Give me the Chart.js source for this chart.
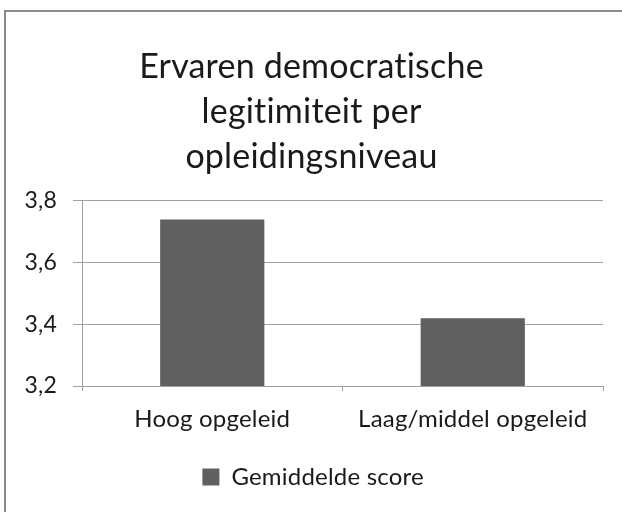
<!DOCTYPE html>
<html>
<head>
<meta charset="utf-8">
<script src="https://cdn.jsdelivr.net/npm/chart.js@4"></script>
<style>
  html, body { margin: 0; padding: 0; background: #fff; }
  #wrap { position: relative; width: 622px; height: 512px; }
  #frame { position: absolute; left: 4px; top: 10px; right: -2px; bottom: -2px; border-top: 2px solid #8c8c8c; border-left: 2px solid #8c8c8c; }
  canvas { position: absolute; left: 0; top: 0; }
</style>
</head>
<body>
<div id="wrap">
  <div id="frame"></div>
  <canvas id="chart" width="622" height="512"></canvas>
</div>
<script>
var titleLines = ["Ervaren democratische", "legitimiteit per", "opleidingsniveau"];
var categories = ["Hoog opgeleid", "Laag/middel opgeleid"];
var seriesName = "Gemiddelde score";
var scores = [3.74, 3.42];
var yTicks = [3.2, 3.4, 3.6, 3.8];

var fontName = "Lato";
var textColor = "#1a1a1a";
var gridColor = "#a0a0a0";

// geen "ti"-ligaturen van Lato
var noLigatures = {
  id: "noLigatures",
  beforeDraw: function (chart) {
    if ("letterSpacing" in chart.ctx) chart.ctx.letterSpacing = "0.2px";
  },
};

var ctx = document.getElementById("chart").getContext("2d");
var chart = new Chart(ctx, {
  type: "bar",
  data: {
    labels: categories,
    datasets: [
      {
        label: seriesName,
        data: scores,
        backgroundColor: "#606060",
        borderWidth: 0,
        categoryPercentage: 0.8,
        barPercentage: 0.5,
      },
    ],
  },
  plugins: [noLigatures],
  options: {
    responsive: false,
    animation: false,
    layout: { padding: { left: 20, right: 19, top: 45, bottom: 13 } },
    plugins: {
      title: {
        display: true,
        text: titleLines,
        color: textColor,
        font: { family: fontName, size: 34, weight: "normal", lineHeight: 1.3235 },
        padding: { top: 0, bottom: 21 },
      },
      legend: {
        position: "bottom",
        labels: {
          color: textColor,
          font: { family: fontName, size: 24 },
          boxWidth: 17,
          boxHeight: 17,
          padding: 10,
        },
      },
      tooltip: { enabled: false },
    },
    scales: {
      x: {
        grid: { offset: true, drawOnChartArea: false, color: gridColor, tickLength: 5 },
        border: { color: gridColor },
        ticks: { color: textColor, font: { family: fontName, size: 24 }, padding: 14 },
        afterFit: function (scale) { scale.height = 69; },
      },
      y: {
        min: 3.2,
        max: 3.8,
        afterBuildTicks: function (scale) {
          scale.ticks = yTicks.map(function (v) { return { value: v }; });
        },
        grid: { color: gridColor, tickLength: 9 },
        border: { color: gridColor },
        ticks: {
          color: textColor,
          font: { family: fontName, size: 23 },
          padding: 16,
          callback: function (value) { return value.toFixed(1).replace(".", ","); },
        },
        afterFit: function (scale) { scale.width = 62; },
      },
    },
  },
});
</script>
</body>
</html>
